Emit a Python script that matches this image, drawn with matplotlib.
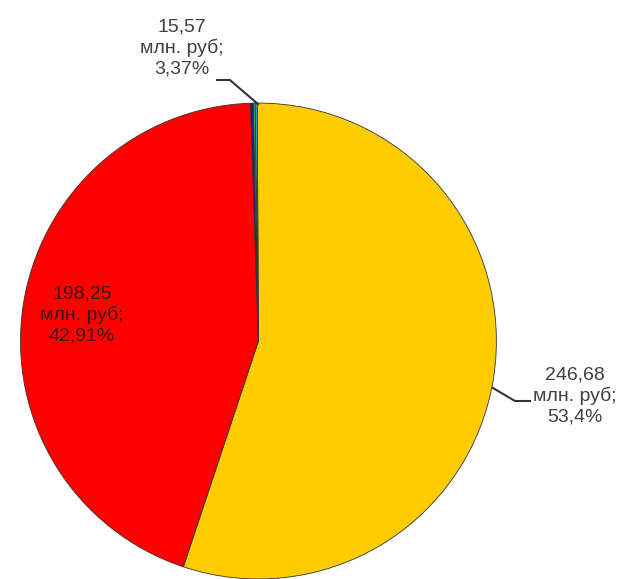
import matplotlib.pyplot as plt

plt.rcParams['font.family'] = ['Liberation Sans', 'DejaVu Sans']

# slice values (small slices estimated from their visual width)
values = [246.68, 198.25, 0.8, 0.6, 0.6]
colors = ['#FFCC00', '#FF0000', '#1A1A8C', '#2E9E5B', '#3FA9F5']
labels = ['246,68\nмлн. руб;\n53,4%', '198,25\nмлн. руб;\n42,91%', '15,57\nмлн. руб;\n3,37%']

fig = plt.figure(figsize=(6.27, 5.79), dpi=100)
ax = fig.add_axes([0.0327, 0.0, 0.759, 0.822])
ax.pie(values, colors=colors, startangle=90.3, counterclock=False, radius=1,
       wedgeprops=dict(edgecolor='#333333', linewidth=0.6))
ax.set_xlim(-1, 1)
ax.set_ylim(-1, 1)
ax.set_aspect('equal')
ax.axis('off')

txt = '#404040'
fs = 14
# right label with leader
ax.plot([0.985, 1.078, 1.141], [-0.197, -0.252, -0.252], color='#333333', lw=1.5,
        clip_on=False)
ax.text(1.33, -0.23, labels[0], ha='center', va='center', fontsize=fs, color=txt,
        linespacing=1.25, clip_on=False)
# red label inside
ax.text(-0.742, 0.109, labels[1], ha='center', va='center', fontsize=fs,
        color='#3a1010', linespacing=1.25)
# top label with leader
ax.plot([-0.174, -0.120, -0.002], [1.097, 1.097, 0.996], color='#333333', lw=1.5,
        clip_on=False)
ax.text(-0.321, 1.231, labels[2], ha='center', va='center', fontsize=fs, color=txt,
        linespacing=1.25, clip_on=False)

fig.savefig('out.png', dpi=100)
